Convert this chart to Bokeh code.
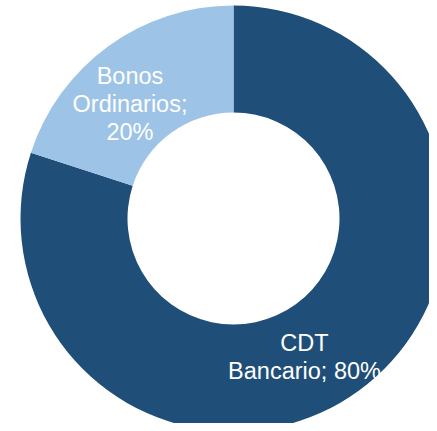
import math
from bokeh.plotting import figure
from bokeh.models import Range1d, ColumnDataSource
from bokeh.embed import file_html
from bokeh.resources import INLINE
from bokeh.core.properties import value

# Data
categories = ["CDT Bancario", "Bonos Ordinarios"]
shares = [80, 20]
label_lines = [["CDT", "Bancario; 80%"], ["Bonos", "Ordinarios;", "20%"]]
colors = ["#1F4E79", "#9DC3E6"]

W, H = 429, 423
cx, cy = 233, H - 218      # donut centre in data units (1 unit = 1 px)
r_out, r_in = 213, 106

total = float(sum(shares))
starts, ends = [], []
cum = 0.0
for s in shares:
    a0 = math.pi / 2 - 2 * math.pi * (cum + s) / total
    a1 = math.pi / 2 - 2 * math.pi * cum / total
    starts.append(a0)
    ends.append(a1)
    cum += s

src = ColumnDataSource(dict(cat=categories, start=starts, end=ends, color=colors,
                            x=[cx] * len(shares), y=[cy] * len(shares)))

p = figure(width=W, height=H, output_backend="svg", toolbar_location=None,
           x_range=Range1d(0, W), y_range=Range1d(0, H), min_border=0)
p.axis.visible = False
p.grid.visible = False
p.outline_line_color = None
p.background_fill_color = "white"
p.border_fill_color = "white"

p.annular_wedge(x="x", y="y", inner_radius=r_in, outer_radius=r_out,
                start_angle="start", end_angle="end", direction="anticlock",
                fill_color="color", line_color=None, source=src)

# label anchors (offsets from centre, px): first-line baseline
label_anchor = [(71, -124), (-103.5, 143)]
line_h = 28
for lines, (dx, dy) in zip(label_lines, label_anchor):
    xs = [cx + dx] * len(lines)
    ys = [cy + dy - i * line_h for i in range(len(lines))]
    p.text(x=xs, y=ys, text=lines, text_align="center", text_baseline="alphabetic",
           text_color="white", text_font=value("Liberation Sans"),
           text_font_size="23.5px")

open("out.html", "w").write(file_html(p, INLINE))
